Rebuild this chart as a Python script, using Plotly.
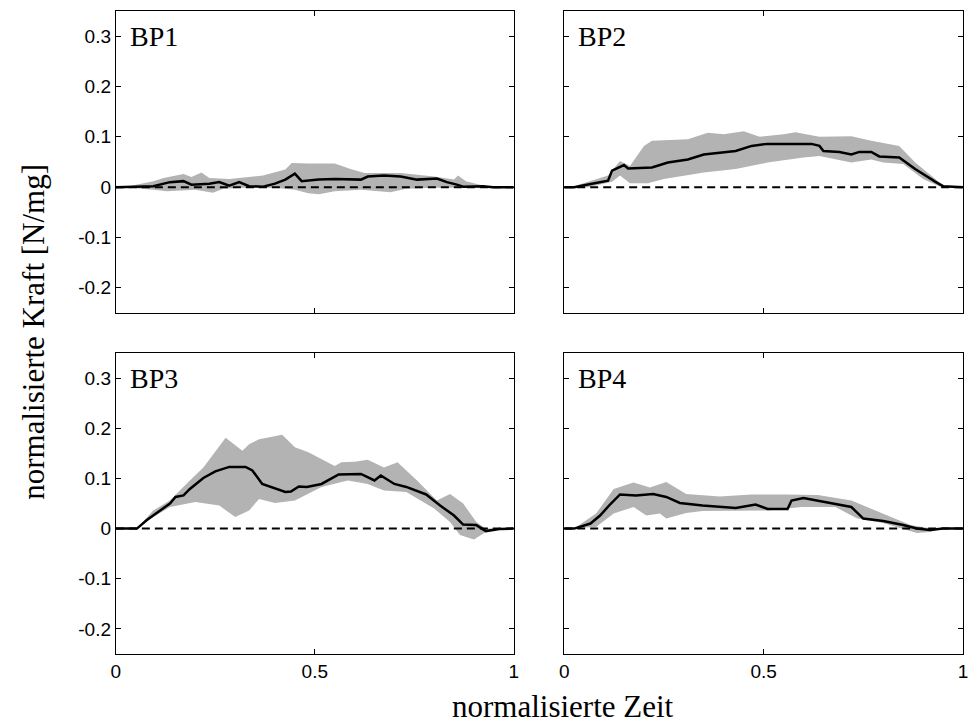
import plotly.graph_objects as go

panel_names = ["BP1", "BP2", "BP3", "BP4"]

# ---- BP1 ----
bp1_mean_x = [0, 0.05, 0.094, 0.136, 0.17, 0.19, 0.235, 0.26, 0.285, 0.31, 0.335, 0.37, 0.40, 0.426, 0.45, 0.467, 0.51, 0.55, 0.616, 0.633, 0.674, 0.716, 0.757, 0.807, 0.832, 0.857, 0.873, 0.923, 0.948, 1.0]
bp1_mean   = [0, 0.001, 0.002, 0.010, 0.012, 0.005, 0.007, 0.010, 0.003, 0.010, 0.002, 0.001, 0.007, 0.015, 0.027, 0.012, 0.015, 0.016, 0.015, 0.021, 0.023, 0.021, 0.015, 0.017, 0.010, 0.005, 0.001, 0.002, 0, 0]
bp1_up_x = [0, 0.02, 0.094, 0.12, 0.17, 0.19, 0.215, 0.235, 0.285, 0.326, 0.37, 0.426, 0.442, 0.484, 0.55, 0.59, 0.625, 0.716, 0.80, 0.85, 0.86, 0.88, 0.915, 0.948, 1.0]
bp1_up   = [0, 0, 0.012, 0.018, 0.026, 0.020, 0.029, 0.018, 0.016, 0.020, 0.023, 0.035, 0.048, 0.047, 0.047, 0.036, 0.028, 0.028, 0.021, 0.015, 0.023, 0.012, 0.005, 0, 0]
bp1_lo_x = [0, 0.02, 0.094, 0.128, 0.20, 0.244, 0.27, 0.318, 0.40, 0.45, 0.484, 0.51, 0.55, 0.616, 0.69, 0.73, 0.80, 0.88, 1.0]
bp1_lo   = [0, 0, -0.005, -0.008, -0.005, -0.011, -0.003, -0.001, -0.001, -0.005, -0.012, -0.014, -0.008, -0.005, -0.010, -0.003, -0.001, 0, 0]

# ---- BP2 ----
bp2_mean_x = [0, 0.025, 0.05, 0.08, 0.11, 0.12, 0.15, 0.16, 0.22, 0.26, 0.31, 0.35, 0.43, 0.47, 0.51, 0.62, 0.64, 0.65, 0.69, 0.72, 0.74, 0.77, 0.79, 0.84, 0.88, 0.93, 0.95, 1.0]
bp2_mean   = [0, 0, 0.004, 0.008, 0.013, 0.033, 0.044, 0.037, 0.039, 0.049, 0.055, 0.065, 0.072, 0.082, 0.086, 0.086, 0.082, 0.072, 0.070, 0.065, 0.070, 0.070, 0.061, 0.059, 0.036, 0.011, 0.002, 0]
bp2_up_x = [0, 0.025, 0.06, 0.11, 0.14, 0.165, 0.20, 0.22, 0.31, 0.36, 0.40, 0.45, 0.49, 0.55, 0.58, 0.64, 0.72, 0.77, 0.84, 0.88, 0.92, 0.95, 1.0]
bp2_up   = [0, 0.002, 0.011, 0.023, 0.052, 0.042, 0.082, 0.092, 0.095, 0.108, 0.105, 0.111, 0.100, 0.105, 0.109, 0.100, 0.101, 0.092, 0.082, 0.049, 0.023, 0.003, 0]
bp2_lo_x = [0, 0.06, 0.12, 0.14, 0.165, 0.21, 0.25, 0.35, 0.43, 0.51, 0.60, 0.64, 0.68, 0.72, 0.77, 0.80, 0.85, 0.90, 0.94, 1.0]
bp2_lo   = [0, 0, 0.011, 0.023, 0.008, 0.008, 0.016, 0.029, 0.036, 0.049, 0.059, 0.062, 0.055, 0.049, 0.055, 0.049, 0.046, 0.016, 0.002, 0]

# ---- BP3 ----
bp3_mean_x = [0, 0.053, 0.078, 0.11, 0.136, 0.15, 0.17, 0.186, 0.22, 0.25, 0.285, 0.326, 0.343, 0.368, 0.39, 0.426, 0.44, 0.46, 0.48, 0.517, 0.56, 0.616, 0.65, 0.666, 0.70, 0.73, 0.78, 0.815, 0.85, 0.873, 0.906, 0.93, 0.964, 1.0]
bp3_mean   = [0, 0, 0.017, 0.036, 0.050, 0.063, 0.066, 0.079, 0.101, 0.114, 0.123, 0.123, 0.116, 0.089, 0.083, 0.073, 0.074, 0.084, 0.083, 0.089, 0.108, 0.109, 0.096, 0.106, 0.089, 0.083, 0.068, 0.046, 0.026, 0.008, 0.007, -0.005, -0.001, 0]
bp3_up_x = [0, 0.053, 0.094, 0.136, 0.177, 0.22, 0.276, 0.318, 0.335, 0.36, 0.418, 0.45, 0.484, 0.55, 0.567, 0.60, 0.633, 0.674, 0.708, 0.757, 0.807, 0.84, 0.873, 0.906, 0.93, 1.0]
bp3_up   = [0, 0, 0.036, 0.056, 0.089, 0.122, 0.181, 0.155, 0.168, 0.178, 0.187, 0.162, 0.152, 0.125, 0.132, 0.133, 0.137, 0.122, 0.132, 0.096, 0.056, 0.069, 0.050, 0.013, 0, 0]
bp3_lo_x = [0, 0.053, 0.094, 0.136, 0.20, 0.26, 0.30, 0.335, 0.36, 0.40, 0.45, 0.517, 0.583, 0.633, 0.674, 0.73, 0.80, 0.84, 0.865, 0.90, 0.93, 0.964, 1.0]
bp3_lo   = [0, 0, 0.023, 0.043, 0.053, 0.046, 0.023, 0.036, 0.059, 0.051, 0.056, 0.083, 0.096, 0.089, 0.076, 0.073, 0.040, 0.013, -0.013, -0.022, -0.007, 0, 0]

# ---- BP4 ----
bp4_mean_x = [0, 0.025, 0.066, 0.09, 0.116, 0.14, 0.18, 0.223, 0.256, 0.29, 0.347, 0.39, 0.43, 0.48, 0.51, 0.56, 0.57, 0.60, 0.68, 0.72, 0.75, 0.80, 0.85, 0.884, 0.917, 0.95, 1.0]
bp4_mean   = [0, 0, 0.010, 0.026, 0.049, 0.068, 0.066, 0.069, 0.063, 0.051, 0.046, 0.043, 0.041, 0.048, 0.039, 0.039, 0.056, 0.061, 0.049, 0.043, 0.020, 0.015, 0.007, 0, -0.003, 0, 0]
bp4_up_x = [0, 0.025, 0.08, 0.124, 0.174, 0.215, 0.256, 0.28, 0.306, 0.39, 0.47, 0.553, 0.636, 0.72, 0.80, 0.868, 0.92, 1.0]
bp4_up   = [0, 0, 0.030, 0.079, 0.092, 0.082, 0.093, 0.082, 0.069, 0.064, 0.068, 0.068, 0.067, 0.056, 0.030, 0.007, 0, 0]
bp4_lo_x = [0, 0.025, 0.08, 0.124, 0.174, 0.206, 0.24, 0.256, 0.306, 0.347, 0.43, 0.51, 0.595, 0.68, 0.735, 0.80, 0.884, 0.917, 0.95, 1.0]
bp4_lo   = [0, 0, 0.003, 0.030, 0.043, 0.026, 0.030, 0.020, 0.031, 0.035, 0.036, 0.036, 0.043, 0.043, 0.020, 0.011, -0.009, -0.007, 0, 0]

x_ticks = [0, 0.5, 1]
x_tick_labels = ["0", "0.5", "1"]
y_ticks = [-0.2, -0.1, 0, 0.1, 0.2, 0.3]
y_tick_labels = ["-0.2", "-0.1", "0", "0.1", "0.2", "0.3"]

panels = [
    (bp1_mean_x, bp1_mean, bp1_up_x, bp1_up, bp1_lo_x, bp1_lo),
    (bp2_mean_x, bp2_mean, bp2_up_x, bp2_up, bp2_lo_x, bp2_lo),
    (bp3_mean_x, bp3_mean, bp3_up_x, bp3_up, bp3_lo_x, bp3_lo),
    (bp4_mean_x, bp4_mean, bp4_up_x, bp4_up, bp4_lo_x, bp4_lo),
]

W, H = 971, 726
# pixel boxes (left, right, top, bottom)
boxes = [(112, 514, 11, 313), (565, 968, 11, 313), (112, 514, 353, 654), (565, 968, 353, 654)]

fig = go.Figure()
layout = {}
for i, ((mx, my, ux, uy, lx, ly), (l, r, t, b)) in enumerate(zip(panels, boxes)):
    n = "" if i == 0 else str(i + 1)
    xa, ya = "x" + n, "y" + n
    band_x = list(ux) + list(reversed(lx))
    band_y = list(uy) + list(reversed(ly))
    fig.add_trace(go.Scatter(x=band_x, y=band_y, fill="toself", fillcolor="#b3b3b3",
                             line=dict(width=0, color="#b3b3b3"), mode="lines",
                             xaxis=xa, yaxis=ya, showlegend=False, hoverinfo="skip"))
    fig.add_trace(go.Scatter(x=[0, 1], y=[0, 0], mode="lines",
                             line=dict(color="black", width=2, dash="8px,5px"),
                             xaxis=xa, yaxis=ya, showlegend=False))
    fig.add_trace(go.Scatter(x=mx, y=my, mode="lines", line=dict(color="black", width=2.5),
                             xaxis=xa, yaxis=ya, showlegend=False))
    bottom = i >= 2
    left = i % 2 == 0
    layout["xaxis" + n] = dict(
        domain=[l / W, r / W], range=[0, 1], anchor=ya,
        tickmode="array", tickvals=x_ticks, ticktext=x_tick_labels,
        showticklabels=bottom, ticks="inside", ticklen=5, tickcolor="black",
        mirror="allticks", showline=True, linecolor="black", linewidth=1,
        showgrid=False, zeroline=False,
        tickfont=dict(family="Liberation Sans", size=19, color="black"),
    )
    layout["yaxis" + n] = dict(
        domain=[1 - b / H, 1 - t / H], range=[-0.25, 0.35], anchor=xa,
        tickmode="array", tickvals=y_ticks, ticktext=y_tick_labels,
        showticklabels=left, ticks="inside", ticklen=5, tickcolor="black",
        mirror="allticks", showline=True, linecolor="black", linewidth=1,
        showgrid=False, zeroline=False,
        tickfont=dict(family="Liberation Sans", size=19, color="black"),
    )

annotations = []
for i, name in enumerate(panel_names):
    n = "" if i == 0 else str(i + 1)
    annotations.append(dict(text=name, xref="x" + n + " domain", yref="y" + n,
                            x=0.03, y=0.3, xanchor="left", yanchor="middle", showarrow=False,
                            font=dict(family="Liberation Serif", size=28, color="black")))
annotations.append(dict(text="normalisierte Zeit", xref="paper", yref="paper",
                        x=563.5 / W, y=0, xanchor="center", yanchor="bottom",
                        showarrow=False, font=dict(family="Liberation Serif", size=31, color="black")))
annotations.append(dict(text="normalisierte Kraft [N/mg]", xref="paper", yref="paper",
                        x=29 / W, y=1 - 332 / H, xanchor="center", yanchor="middle", textangle=-90,
                        showarrow=False, font=dict(family="Liberation Serif", size=31, color="black")))

fig.update_layout(width=W, height=H, margin=dict(l=0, r=0, t=0, b=0),
                  paper_bgcolor="white", plot_bgcolor="white",
                  annotations=annotations, **layout)
fig.write_html("out.html", config={"displayModeBar": False},
               post_script="document.body.style.margin='0';document.body.style.overflow='hidden';")
